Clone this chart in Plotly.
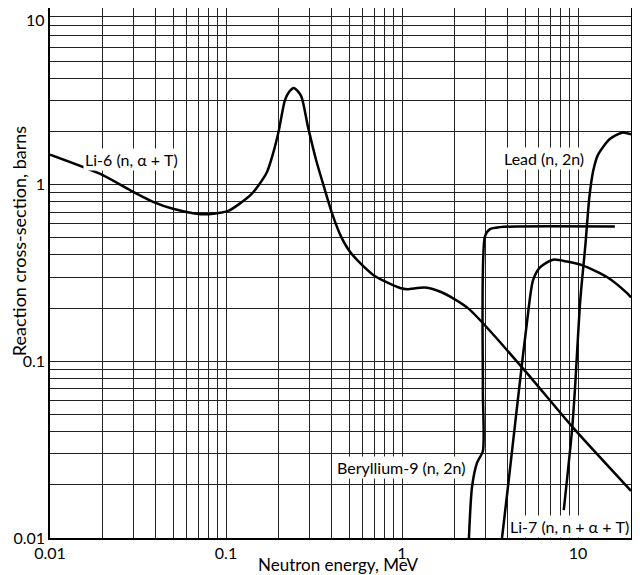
import numpy as np
import plotly.graph_objects as go

# --- Neutron reaction cross-sections (MeV, barns) ---
li6_energy = [0.01, 0.0193, 0.0297, 0.0385, 0.05, 0.065, 0.08, 0.103, 0.1216, 0.139, 0.154,
              0.171, 0.185, 0.199, 0.216, 0.228, 0.243, 0.267, 0.292, 0.325, 0.360, 0.400,
              0.450, 0.513, 0.693, 0.987, 1.07, 1.35, 1.68, 2.37, 4.74, 9.4, 20]
li6_xs = [1.48, 1.15, 0.91, 0.80, 0.73, 0.69, 0.68, 0.71, 0.79, 0.88, 1.0,
          1.18, 1.5, 2.0, 3.0, 3.35, 3.53, 3.18, 2.13, 1.38, 0.974, 0.69,
          0.51, 0.41, 0.306, 0.259, 0.256, 0.262, 0.246, 0.20, 0.094, 0.042, 0.0185]

be9_energy = [2.40, 2.50, 2.67, 2.88, 2.88, 2.96, 3.16, 3.6, 4.5, 16.2]
be9_xs = [0.01, 0.0195, 0.0267, 0.031, 0.069, 0.51, 0.56, 0.575, 0.58, 0.58]

lead_energy = [8.3, 9.25, 9.6, 10.3, 11.0, 11.6, 12.2, 13.0, 15.2, 17.8, 20]
lead_xs = [0.0144, 0.041, 0.069, 0.222, 0.45, 0.85, 1.2, 1.48, 1.82, 1.97, 1.93]

li7_energy = [3.70, 4.0, 4.62, 5.13, 5.55, 6.08, 7.21, 8.66, 10.7, 14.6, 19.0, 20]
li7_xs = [0.01, 0.0195, 0.069, 0.167, 0.287, 0.34, 0.376, 0.367, 0.348, 0.30, 0.243, 0.23]

# curve labels: text, x, y, anchor
labels = [
    ('Li-6 (n, \u03b1 + T)', 0.0154, 1.38, 'left'),
    ('Lead (n, 2n)', 3.7, 1.40, 'left'),
    ('Beryllium-9 (n, 2n)', 2.36, 0.025, 'right'),
    ('Li-7 (n, n + \u03b1 + T)', 4.0, 0.0116, 'left'),
]

major_x = [0.01, 0.1, 1, 10]
major_y = [0.01, 0.1, 1]
minor_x = [m * d for d in [0.01, 0.1, 1, 10] for m in range(2, 10) if m * d < 20]
minor_y = [m * d for d in [0.01, 0.1, 1] for m in range(2, 10)]

font = 'Lato'
fig = go.Figure()
for xs, ys in [(li6_energy, li6_xs), (be9_energy, be9_xs), (lead_energy, lead_xs), (li7_energy, li7_xs)]:
    fig.add_trace(go.Scatter(x=xs, y=ys, mode='lines',
                             line=dict(color='black', width=2.5, shape='spline', smoothing=0.7),
                             showlegend=False, hoverinfo='skip'))

for text, x, y, anchor in labels:
    fig.add_annotation(x=np.log10(x), y=np.log10(y), text=text, showarrow=False,
                       xanchor=anchor, yanchor='middle', bgcolor='white',
                       font=dict(family=font, size=16, color='black'), borderpad=1)

# top "10" label sits on the upper edge, so it is placed by hand
fig.add_annotation(xref='paper', yref='paper', x=0, y=1, xshift=-3, text='10',
                   showarrow=False, xanchor='right', yanchor='top',
                   font=dict(family=font, size=16, color='black'))

# axis titles placed by hand so the margins stay fixed
fig.add_annotation(xref='paper', yref='paper', x=0.496, y=0, yshift=-26,
                   text='Neutron energy, MeV', showarrow=False, yanchor='middle',
                   font=dict(family=font, size=17, color='black'))
fig.add_annotation(xref='paper', yref='paper', x=0, y=0.56, xshift=-31,
                   text='Reaction cross-section, barns', showarrow=False, textangle=-90,
                   xanchor='center', yanchor='middle',
                   font=dict(family=font, size=18, color='black'))

grid = dict(showgrid=True, gridcolor='#222', gridwidth=1)
axis = dict(type='log', ticks='', ticklen=0, showline=True, linecolor='black', linewidth=1.5,
            mirror=True, zeroline=False, automargin=False,
            tickfont=dict(family=font, size=16, color='black'), **grid)

# the page body adds an 8 px margin, so the figure is a bit smaller than the window
fig.update_layout(
    width=632, height=567,
    margin=dict(l=42, r=9, t=0, b=37),
    paper_bgcolor='white', plot_bgcolor='white',
    font=dict(family=font, size=16, color='black'),
    xaxis=dict(range=[-2, np.log10(20)], tickvals=major_x, ticktext=['0.01', '0.1', '1', '10'],
               minor=dict(tickvals=minor_x, ticks='', **grid), **axis),
    yaxis=dict(range=[-2, 1], tickvals=major_y, ticktext=['0.01', '0.1', '1'],
               minor=dict(tickvals=minor_y, ticks='', **grid), **axis),
)

fig.write_html('out.html')
